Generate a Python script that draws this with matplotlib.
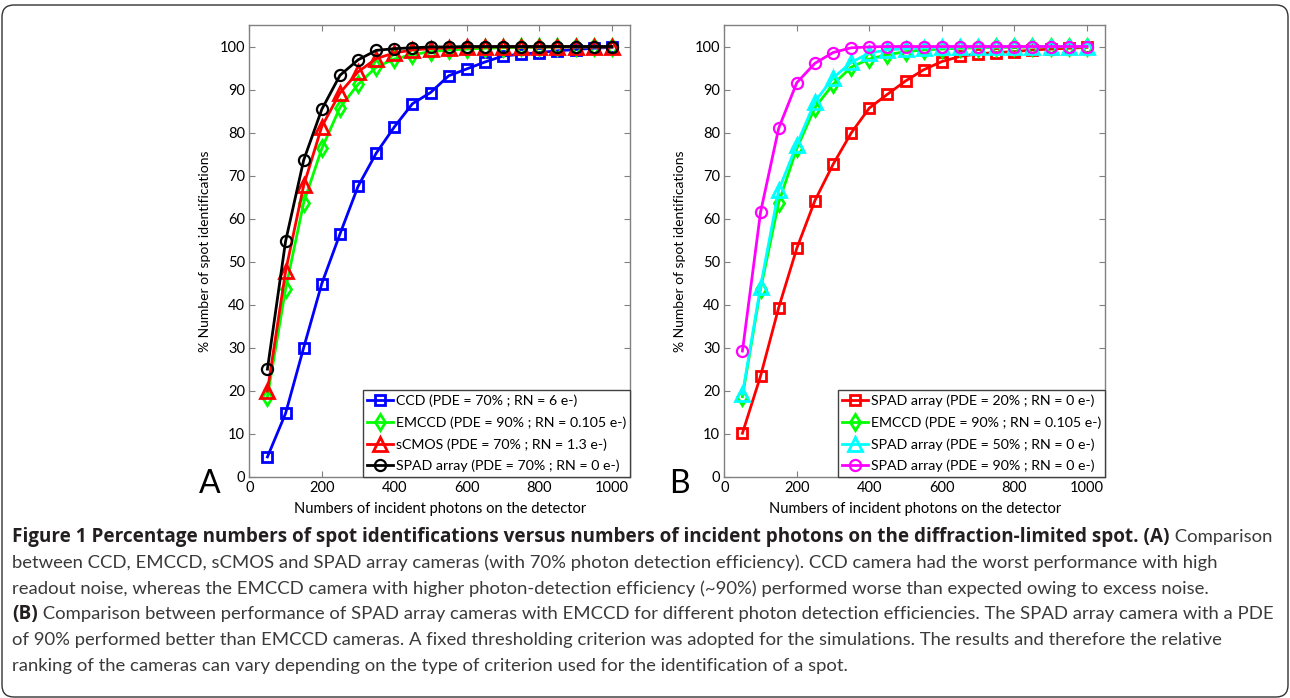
import matplotlib
matplotlib.use("Agg")
import matplotlib.pyplot as plt
from matplotlib.patches import FancyBboxPatch
from matplotlib.transforms import IdentityTransform
from matplotlib import font_manager

photons = [50, 100, 150, 200, 250, 300, 350, 400, 450, 500,
           550, 600, 650, 700, 750, 800, 850, 900, 950, 1000]

# Panel A
ccd = [4.6, 14.7, 30.0, 44.9, 56.4, 67.5, 75.2, 81.3, 86.7, 89.3,
       93.2, 94.8, 96.4, 97.8, 98.2, 98.6, 99.0, 99.3, 99.6, 99.8]
emccd = [18.6, 43.6, 63.7, 76.3, 85.8, 91.2, 95.2, 97.1, 98.1, 98.8,
         99.2, 99.4, 99.6, 99.7, 99.8, 99.8, 99.9, 99.9, 99.9, 99.9]
scmos = [19.9, 47.7, 67.7, 81.4, 89.2, 94.1, 97.2, 98.5, 99.2, 99.5,
         99.7, 99.8, 99.9, 99.9, 99.9, 99.9, 99.9, 99.9, 99.9, 99.9]
spad70 = [25.0, 54.7, 73.6, 85.4, 93.3, 96.9, 99.1, 99.5, 99.7, 99.9,
          99.9, 100.0, 100.0, 100.0, 100.0, 100.0, 100.0, 100.0, 100.0, 100.0]

# Panel B
spad20 = [10.1, 23.4, 39.3, 53.1, 64.2, 72.6, 79.9, 85.7, 88.9, 92.0,
          94.6, 96.5, 97.7, 98.3, 98.6, 98.8, 99.2, 99.4, 99.6, 99.8]
spad50 = [19.2, 44.2, 66.6, 77.2, 87.2, 92.7, 96.3, 98.5, 99.2, 99.5,
          99.7, 99.8, 99.9, 99.9, 99.9, 100.0, 100.0, 100.0, 100.0, 100.0]
spad90 = [29.2, 61.5, 81.0, 91.6, 96.1, 98.6, 99.7, 99.9, 100.0, 100.0,
          100.0, 100.0, 100.0, 100.0, 100.0, 100.0, 100.0, 100.0, 100.0, 100.0]

labels_a = ["CCD (PDE = 70% ; RN = 6 e-)",
            "EMCCD (PDE = 90% ; RN = 0.105 e-)",
            "sCMOS (PDE = 70% ; RN = 1.3 e-)",
            "SPAD array (PDE = 70% ; RN = 0 e-)"]
labels_b = ["SPAD array (PDE = 20% ; RN = 0 e-)",
            "EMCCD (PDE = 90% ; RN = 0.105 e-)",
            "SPAD array (PDE = 50% ; RN = 0 e-)",
            "SPAD array (PDE = 90% ; RN = 0 e-)"]
xticks = [0, 200, 400, 600, 800, 1000]
yticks = [0, 10, 20, 30, 40, 50, 60, 70, 80, 90, 100]
xlabel = "Numbers of incident photons on the detector"
ylabel = "% Number of spot identifications"

caption_lines = [
    ("Figure 1 Percentage numbers of spot identifications versus numbers of incident photons on the diffraction-limited spot. (A)", " Comparison"),
    ("", "between CCD, EMCCD, sCMOS and SPAD array cameras (with 70% photon detection efficiency). CCD camera had the worst performance with high"),
    ("", "readout noise, whereas the EMCCD camera with higher photon-detection efficiency (~90%) performed worse than expected owing to excess noise."),
    ("(B)", " Comparison between performance of SPAD array cameras with EMCCD for different photon detection efficiencies. The SPAD array camera with a PDE"),
    ("", "of 90% performed better than EMCCD cameras. A fixed thresholding criterion was adopted for the simulations. The results and therefore the relative"),
    ("", "ranking of the cameras can vary depending on the type of criterion used for the identification of a spot."),
]

names = {f.name for f in font_manager.fontManager.ttflist}
chart_font = "Lato" if "Lato" in names else "DejaVu Sans"
bold_font = "Open Sans" if "Open Sans" in names else chart_font

W, H = 1290, 698
fig = plt.figure(figsize=(W / 100, H / 100), dpi=100)
plt.rcParams['font.family'] = [chart_font, 'DejaVu Sans']

frame = FancyBboxPatch((2, 1), W - 4, H - 6,
                       boxstyle="round,pad=0,rounding_size=12",
                       transform=IdentityTransform(), facecolor='none',
                       edgecolor='#333333', linewidth=1.0)
fig.add_artist(frame)

spine_c = '#808080'

def make_axes(left_px):
    ax = fig.add_axes([left_px / W, (H - 476.7) / H, 380.7 / W, 451.7 / H])
    ax.set_xlim(0, 1050)
    ax.set_ylim(0, 105)
    ax.set_xticks(xticks)
    ax.set_yticks(yticks)
    ax.tick_params(direction='in', top=True, right=True, length=4,
                   color=spine_c, labelsize=10.5, pad=3)
    for s in ax.spines.values():
        s.set_color(spine_c)
        s.set_linewidth(1.0)
    ax.set_xlabel(xlabel, fontsize=10.5, labelpad=5)
    ax.set_ylabel(ylabel, fontsize=10, labelpad=6)
    return ax

lw = 2.0
ax1 = make_axes(249.3)
ax1.plot(photons, ccd, color='#0000ff', marker='s', mfc='none', ms=7, mew=2, lw=lw, label=labels_a[0])
ax1.plot(photons, emccd, color='#00ff00', marker='d', mfc='none', ms=8, mew=2, lw=lw, label=labels_a[1])
ax1.plot(photons, scmos, color='#ff0000', marker='^', mfc='none', ms=10, mew=2, lw=lw, label=labels_a[2])
ax1.plot(photons, spad70, color='#000000', marker='o', mfc='none', ms=8, mew=1.6, lw=lw, label=labels_a[3])

ax2 = make_axes(724.3)
ax2.plot(photons, spad20, color='#ff0000', marker='s', mfc='none', ms=7, mew=2, lw=lw, label=labels_b[0])
ax2.plot(photons, emccd, color='#00ff00', marker='d', mfc='none', ms=8, mew=2, lw=lw, label=labels_b[1])
ax2.plot(photons, spad50, color='#00ffff', marker='^', mfc='none', ms=10, mew=2, lw=lw, label=labels_b[2])
ax2.plot(photons, spad90, color='#ff00ff', marker='o', mfc='none', ms=8, mew=1.6, lw=lw, label=labels_b[3])

for ax in (ax1, ax2):
    leg = ax.legend(loc='lower right', borderaxespad=0, fontsize=10.2,
                    handlelength=1.85, handletextpad=0.15, labelspacing=0.66,
                    borderpad=0.3, fancybox=False, framealpha=1)
    leg.get_frame().set_edgecolor('#404040')
    leg.get_frame().set_linewidth(1.0)

fig.text(210 / W, 1 - 484 / H, "A", fontsize=23, ha='center', va='center')
fig.text(679 / W, 1 - 484 / H, "B", fontsize=23, ha='center', va='center')

# caption
fig.canvas.draw()
renderer = fig.canvas.get_renderer()
norm_size = 13.3
bold_size = 13.6
y0 = 537
dy = 25.8
for i, (bold, normal) in enumerate(caption_lines):
    y = 1 - (y0 + i * dy) / H
    x = 12 / W
    if bold:
        t = fig.text(x, y, bold, fontsize=bold_size, fontweight='bold',
                     family=[bold_font, 'DejaVu Sans'], color='#231f20',
                     ha='left', va='center')
        bb = t.get_window_extent(renderer=renderer)
        x = bb.x1 / W
    fig.text(x, y, normal, fontsize=norm_size, family=[chart_font, 'DejaVu Sans'],
             color='#3a3a3a', ha='left', va='center')

fig.savefig("out.png", dpi=100)
